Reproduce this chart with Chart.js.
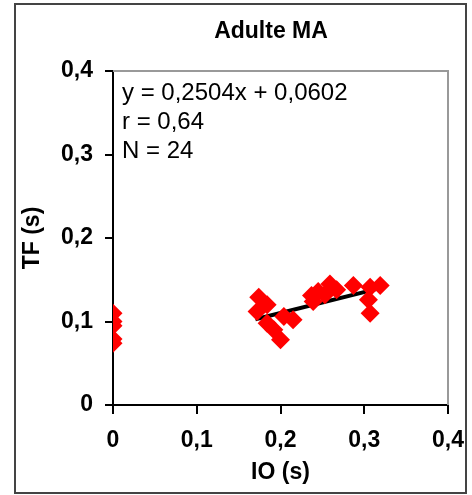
<!DOCTYPE html>
<html>
<head>
<meta charset="utf-8">
<script src="https://cdn.jsdelivr.net/npm/chart.js@4/dist/chart.umd.min.js"></script>
<style>
  html, body { margin: 0; padding: 0; background: #fff; }
  #wrap { width: 472px; height: 495px; position: relative; }
</style>
</head>
<body>
<div id="wrap"><canvas id="chart" width="472" height="495"></canvas></div>
<script>
// data
const ioValues = [0, 0, 0, 0, 0,
  0.174, 0.172, 0.184, 0.184, 0.192, 0.200, 0.204, 0.215,
  0.237, 0.239, 0.245, 0.253, 0.259, 0.267, 0.287,
  0.305, 0.307, 0.307, 0.319];
const tfValues = [0.110, 0.100, 0.095, 0.079, 0.074,
  0.129, 0.112, 0.120, 0.098, 0.090, 0.078, 0.106, 0.102,
  0.131, 0.124, 0.136, 0.132, 0.145, 0.138, 0.143,
  0.126, 0.141, 0.110, 0.143];
const trendCoef = [0.2504, 0.0602];   // slope, intercept
const trendRange = [0.17, 0.32];
const axisTicks = [0, 0.1, 0.2, 0.3, 0.4];
const statLines = ['y = 0,2504x + 0,0602', 'r = 0,64', 'N = 24'];

const points = ioValues.map((x, i) => ({ x: x, y: tfValues[i] }));
const trend = trendRange.map(x => ({ x: x, y: trendCoef[0] * x + trendCoef[1] }));

const fmt = v => v === 0 ? '0' : v.toFixed(1).replace('.', ',');
const FONT = 'Liberation Sans, Arial, sans-serif';

// frame, plot border, title and regression text
const decor = {
  id: 'decor',
  beforeDraw(chart) {
    const ctx = chart.ctx;
    ctx.save();
    ctx.fillStyle = '#fff';
    ctx.fillRect(0, 0, chart.width, chart.height);
    ctx.strokeStyle = '#444';
    ctx.lineWidth = 2;
    ctx.strokeRect(15, 4, 451, 489);
    ctx.restore();
  },
  afterDatasetsDraw(chart) {
    const ctx = chart.ctx;
    const a = chart.chartArea;
    ctx.save();
    ctx.strokeStyle = '#999';
    ctx.lineWidth = 2;
    ctx.beginPath();
    ctx.moveTo(a.left, a.top);
    ctx.lineTo(a.right, a.top);
    ctx.lineTo(a.right, a.bottom);
    ctx.stroke();

    ctx.fillStyle = '#000';
    ctx.font = 'bold 23px ' + FONT;
    ctx.textAlign = 'center';
    ctx.textBaseline = 'middle';
    ctx.fillText('Adulte MA', 271, 32);

    ctx.font = '24px ' + FONT;
    ctx.textAlign = 'left';
    statLines.forEach((t, i) => ctx.fillText(t, 122, 93 + i * 29));
    ctx.restore();
  }
};

new Chart(document.getElementById('chart'), {
  type: 'scatter',
  data: {
    datasets: [{
      data: points,
      pointStyle: 'rectRot',
      pointRadius: 9.5,
      pointBackgroundColor: '#ff0000',
      pointBorderColor: '#ff0000',
      pointBorderWidth: 0
    }, {
      type: 'line',
      data: trend,
      borderColor: '#000',
      borderWidth: 4,
      pointRadius: 0,
      fill: false
    }]
  },
  options: {
    responsive: false,
    animation: false,
    layout: { padding: { top: 71, right: 24, left: 0, bottom: 0 } },
    plugins: { legend: { display: false }, tooltip: { enabled: false } },
    scales: {
      x: {
        type: 'linear',
        min: 0, max: 0.4,
        afterBuildTicks: s => { s.ticks = axisTicks.map(v => ({ value: v })); },
        afterFit: s => { s.height = 90; s.paddingLeft = 0; s.paddingRight = 0; },
        grid: { display: true, drawOnChartArea: false, drawTicks: true, tickLength: 9, color: '#000', lineWidth: 2 },
        border: { display: true, color: '#000', width: 2 },
        ticks: { color: '#000', padding: 13, font: { family: FONT, size: 23, weight: 'bold' }, callback: fmt, maxRotation: 0 },
        title: { display: true, text: 'IO (s)', color: '#000', padding: { top: 0, bottom: 9 }, font: { family: FONT, size: 23, weight: 'bold' } }
      },
      y: {
        type: 'linear',
        min: 0, max: 0.4,
        afterBuildTicks: s => { s.ticks = axisTicks.map(v => ({ value: v })); },
        afterFit: s => { s.width = 113; s.paddingTop = 0; s.paddingBottom = 0; },
        grid: { display: true, drawOnChartArea: false, drawTicks: true, tickLength: 8, color: '#000', lineWidth: 2 },
        border: { display: true, color: '#000', width: 2 },
        ticks: { color: '#000', padding: 12, font: { family: FONT, size: 23, weight: 'bold' }, callback: fmt },
        title: { display: true, text: 'TF (s)', color: '#000', padding: { top: 19, bottom: 0 }, font: { family: FONT, size: 23, weight: 'bold' } }
      }
    }
  },
  plugins: [decor]
});
</script>
</body>
</html>
